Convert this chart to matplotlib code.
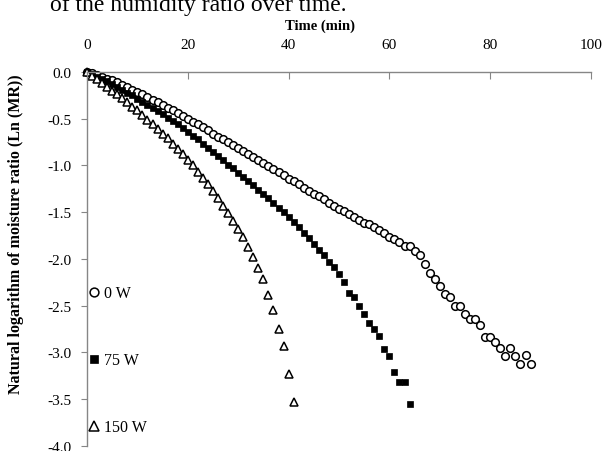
import matplotlib
matplotlib.use("Agg")
import matplotlib.pyplot as plt

plt.rcParams["font.family"] = ["Liberation Serif", "DejaVu Serif"]

# drying data, one reading per minute
t_0w = list(range(0, 89))
ln_mr_0w = [0.00, -0.01, -0.03, -0.05, -0.07, -0.09, -0.11, -0.14, -0.16, -0.19,
            -0.21, -0.24, -0.27, -0.30, -0.32, -0.35, -0.38, -0.41, -0.44, -0.47,
            -0.50, -0.53, -0.56, -0.59, -0.62, -0.66, -0.69, -0.72, -0.75, -0.78,
            -0.81, -0.85, -0.88, -0.91, -0.94, -0.97, -1.01, -1.04, -1.07, -1.10,
            -1.14, -1.17, -1.20, -1.24, -1.27, -1.30, -1.33, -1.36, -1.40, -1.43,
            -1.46, -1.49, -1.52, -1.55, -1.58, -1.61, -1.63, -1.66, -1.69, -1.72,
            -1.76, -1.79, -1.82, -1.86, -1.86, -1.91, -1.96, -2.05, -2.15, -2.21,
            -2.29, -2.37, -2.41, -2.50, -2.50, -2.59, -2.64, -2.64, -2.71, -2.83,
            -2.83, -2.89, -2.95, -3.04, -2.95, -3.04, -3.12, -3.03, -3.12]

t_75w = list(range(0, 65))
ln_mr_75w = [0.00, -0.02, -0.05, -0.07, -0.10, -0.13, -0.16, -0.19, -0.22, -0.25,
             -0.29, -0.32, -0.35, -0.38, -0.42, -0.45, -0.49, -0.52, -0.56, -0.60,
             -0.64, -0.68, -0.72, -0.77, -0.81, -0.86, -0.90, -0.94, -0.99, -1.03,
             -1.08, -1.12, -1.17, -1.21, -1.26, -1.31, -1.35, -1.40, -1.45, -1.50,
             -1.55, -1.60, -1.66, -1.72, -1.78, -1.84, -1.90, -1.96, -2.03, -2.09,
             -2.16, -2.25, -2.36, -2.41, -2.50, -2.59, -2.68, -2.75, -2.82, -2.96,
             -3.04, -3.21, -3.32, -3.32, -3.55]

t_150w = list(range(0, 42))
ln_mr_150w = [0.00, -0.04, -0.08, -0.12, -0.16, -0.20, -0.24, -0.28, -0.32, -0.37,
              -0.41, -0.46, -0.51, -0.56, -0.61, -0.66, -0.71, -0.77, -0.82, -0.88,
              -0.94, -1.00, -1.07, -1.13, -1.20, -1.27, -1.35, -1.43, -1.51, -1.59,
              -1.68, -1.77, -1.87, -1.98, -2.10, -2.21, -2.39, -2.55, -2.75, -2.93,
              -3.23, -3.53]

xticks = [0, 20, 40, 60, 80, 100]
yticks = [0.0, -0.5, -1.0, -1.5, -2.0, -2.5, -3.0, -3.5, -4.0]

fig = plt.figure(figsize=(6.05, 4.52), dpi=100)
ax = fig.add_axes([0.1438, 0.0111, 0.8331, 0.8274])

ax.plot(t_0w, ln_mr_0w, 'o', ms=5.5, mfc='white', mec='black', mew=1.1,
        ls='none', clip_on=False, label='0 W')
ax.plot(t_75w, ln_mr_75w, 's', ms=4.8, mfc='black', mec='black', mew=0.5,
        ls='none', clip_on=False, label='75 W')
ax.plot(t_150w, ln_mr_150w, '^', ms=6.3, mfc='white', mec='black', mew=1.1,
        ls='none', clip_on=False, label='150 W')

ax.set_xlim(0, 100)
ax.set_ylim(-4, 0)
ax.set_xticks(xticks)
ax.set_yticks(yticks)
ax.set_yticklabels(['%.1f' % v for v in yticks])

ax.xaxis.tick_top()
ax.xaxis.set_label_position('top')
for s in ['right', 'bottom']:
    ax.spines[s].set_visible(False)
for s in ['top', 'left']:
    ax.spines[s].set_color('#868686')
    ax.spines[s].set_linewidth(1.0)

ax.tick_params(axis='x', direction='in', length=5, color='#868686',
               labelsize=11, pad=15)
ax.tick_params(axis='y', direction='out', length=4, color='#868686',
               labelsize=11, pad=7)

ax.set_xlabel('Time (min)', fontsize=10.5, fontweight='bold')
ax.xaxis.set_label_coords(0.462, 1.115)
ax.set_ylabel('Natural logarithm of moisture ratio (Ln (MR))',
              fontsize=11.5, fontweight='bold')
ax.yaxis.set_label_coords(-0.125, 0.57)

ax.legend(loc='upper left', bbox_to_anchor=(0.005, 0.43), frameon=False,
          fontsize=11.5, handlelength=0.6, handletextpad=0.3, labelspacing=3.2,
          borderpad=0, borderaxespad=0, markerscale=1.15)

fig.text(50 / 605, 1 - 11 / 452, 'of the humidity ratio over time.',
         fontsize=17, ha='left', va='baseline')

fig.savefig('out.png', dpi=100)
